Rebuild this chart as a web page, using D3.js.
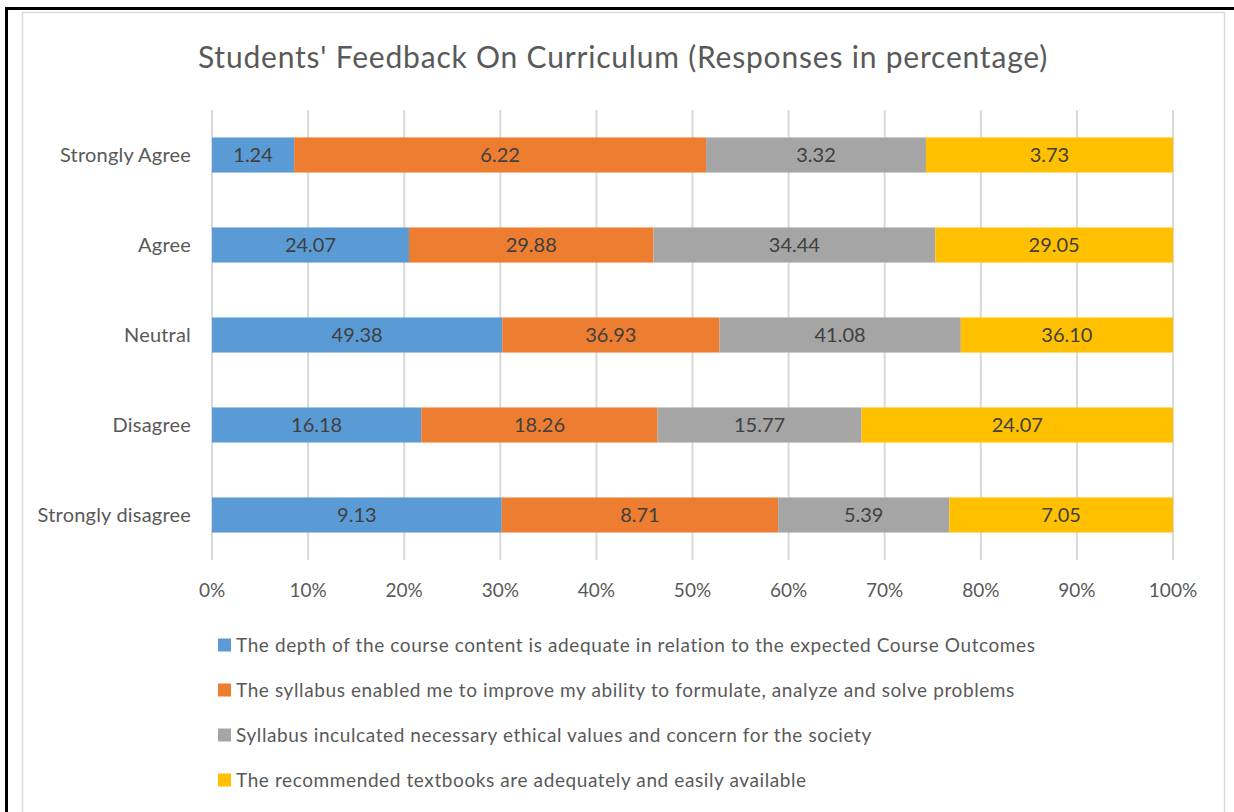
<!DOCTYPE html>
<html>
<head>
<meta charset="utf-8">
<script src="https://cdn.jsdelivr.net/npm/d3@7"></script>
<style>
  body { margin: 0; background: #fff; }
  text { font-family: Lato, "Open Sans", sans-serif; }
</style>
</head>
<body>
<svg id="chart"></svg>
<script>
let svgWidth = 1234
let svgHeight = 812

// data
let categories = ['Strongly Agree', 'Agree', 'Neutral', 'Disagree', 'Strongly disagree']
let seriesNames = [
  'The depth of the course content is adequate in relation to the expected Course Outcomes',
  'The syllabus enabled me to improve my ability to formulate, analyze and solve problems',
  'Syllabus inculcated necessary ethical values and concern for the society',
  'The recommended textbooks are adequately and easily available'
]
let depthValues    = [1.24, 24.07, 49.38, 16.18, 9.13]
let syllabusValues = [6.22, 29.88, 36.93, 18.26, 8.71]
let ethicsValues   = [3.32, 34.44, 41.08, 15.77, 5.39]
let textbookValues = [3.73, 29.05, 36.10, 24.07, 7.05]
let tickLabels = ['0%', '10%', '20%', '30%', '40%', '50%', '60%', '70%', '80%', '90%', '100%']
let colors = ['#5B9BD5', '#ED7D31', '#A5A5A5', '#FFC000']

let allSeries = [depthValues, syllabusValues, ethicsValues, textbookValues]

let svg = d3.select('#chart')
    .attr('width', svgWidth)
    .attr('height', svgHeight)

// outer frame (black line top and left) and chart area border
svg.append('rect')
    .attr('x', 22.5).attr('y', 12.5)
    .attr('width', 1202).attr('height', 820)
    .attr('fill', '#fff')
    .attr('stroke', '#D9D9D9').attr('stroke-width', 1.5)
svg.append('line')
    .attr('x1', 5).attr('x2', svgWidth).attr('y1', 8.5).attr('y2', 8.5)
    .attr('stroke', '#000').attr('stroke-width', 3)
svg.append('line')
    .attr('x1', 6.5).attr('x2', 6.5).attr('y1', 7).attr('y2', svgHeight)
    .attr('stroke', '#000').attr('stroke-width', 3)

svg.append('text')
    .attr('x', 623).attr('y', 68)
    .attr('text-anchor', 'middle')
    .style('font-size', '30px')
    .style('letter-spacing', '0.8px')
    .style('fill', '#595959')
    .text("Students' Feedback On Curriculum (Responses in percentage)")

let margin = {left: 212, top: 110, right: 61, bottom: 252}

const xScale = d3.scaleLinear()
    .domain([0, 1])
    .range([margin.left, svgWidth - margin.right])

const yScale = d3.scaleBand()
    .domain(categories)
    .range([margin.top, svgHeight - margin.bottom])
    .paddingInner(0.61)
    .paddingOuter(0.305)

// gridlines
svg.append('g')
    .selectAll('line')
    .data(tickLabels)
    .enter()
    .append('line')
    .attr('x1', (d, i) => xScale(i / 10))
    .attr('x2', (d, i) => xScale(i / 10))
    .attr('y1', margin.top)
    .attr('y2', svgHeight - margin.bottom)
    .attr('stroke', '#D9D9D9')
    .attr('stroke-width', 2)

// tick labels
svg.append('g')
    .selectAll('text')
    .data(tickLabels)
    .enter()
    .append('text')
    .attr('x', (d, i) => xScale(i / 10))
    .attr('y', 597)
    .attr('text-anchor', 'middle')
    .style('font-size', '19px')
    .style('fill', '#595959')
    .text(d => d)

// category labels
svg.append('g')
    .selectAll('text')
    .data(categories)
    .enter()
    .append('text')
    .attr('x', 191)
    .attr('y', d => yScale(d) + yScale.bandwidth() / 2)
    .attr('dy', '0.35em')
    .attr('text-anchor', 'end')
    .style('font-size', '20px')
    .style('letter-spacing', '0.2px')
    .style('fill', '#595959')
    .text(d => d)

// stacked 100% segments
let rows = categories.map(function(c, i){
    let total = d3.sum(allSeries, s => s[i])
    let row = {cat: c}
    allSeries.forEach(function(s, k){ row['s' + k] = s[i] / total })
    return row
})
let stack = d3.stack().keys(['s0', 's1', 's2', 's3'])
let layers = stack(rows)

layers.forEach(function(layer, k){
    let g = svg.append('g')
    g.selectAll('rect')
        .data(layer)
        .enter()
        .append('rect')
        .attr('x', d => xScale(d[0]))
        .attr('y', d => yScale(d.data.cat))
        .attr('width', d => xScale(d[1]) - xScale(d[0]))
        .attr('height', yScale.bandwidth())
        .attr('fill', colors[k])
    g.selectAll('text')
        .data(layer)
        .enter()
        .append('text')
        .attr('x', d => (xScale(d[0]) + xScale(d[1])) / 2)
        .attr('y', d => yScale(d.data.cat) + yScale.bandwidth() / 2)
        .attr('dy', '0.35em')
        .attr('text-anchor', 'middle')
        .style('font-size', '20px')
        .style('fill', '#404040')
        .text((d, i) => allSeries[k][i].toFixed(2))
})

// legend
let legend = svg.append('g')
    .selectAll('g')
    .data(seriesNames)
    .enter()
    .append('g')
    .attr('transform', (d, i) => `translate(218, ${645 + i * 45})`)
legend.append('rect')
    .attr('x', 0).attr('y', -6.5)
    .attr('width', 13).attr('height', 13)
    .attr('fill', (d, i) => colors[i])
legend.append('text')
    .attr('x', 18)
    .attr('dy', '0.35em')
    .style('font-size', '19px')
    .style('letter-spacing', '0.6px')
    .style('fill', '#595959')
    .text(d => d)
</script>
</body>
</html>
